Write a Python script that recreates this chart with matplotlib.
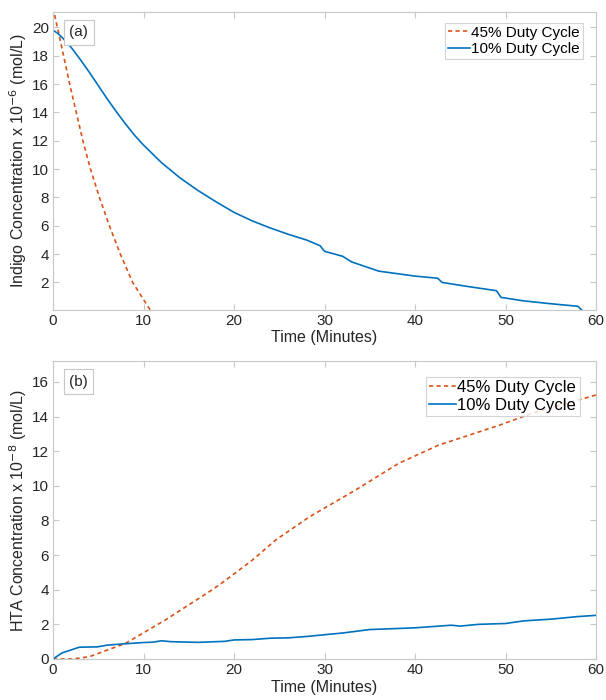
import numpy as np
import matplotlib.pyplot as plt

plt.rcParams['font.family'] = ['Liberation Sans', 'DejaVu Sans']

# (a) indigo concentration x 1e-6 mol/L
t_a45 = [0, 1.17, 1.84, 2.57, 3.3, 4.14, 5.13, 6.23, 7.44, 8.8, 10.0, 10.8]
c_a45 = [21.4, 18, 16, 14, 12, 10, 8, 6, 4, 2, 0.8, 0.0]

t_a10 = [0, 0.5, 1, 2, 3, 4, 5, 6, 7, 8, 9, 10, 12, 14, 16, 18, 20, 22, 24, 26,
         28, 29.5, 30, 32, 33, 36, 40, 42.5, 43, 46, 49, 49.5, 52, 55, 58, 58.5]
c_a10 = [19.8, 19.6, 19.3, 18.6, 17.75, 16.85, 15.9, 14.95, 14.05, 13.2, 12.4,
         11.7, 10.45, 9.4, 8.5, 7.7, 6.95, 6.35, 5.85, 5.4, 5.0, 4.6, 4.2, 3.85,
         3.45, 2.8, 2.45, 2.3, 2.0, 1.7, 1.42, 0.95, 0.7, 0.5, 0.32, 0.0]

# (b) HTA concentration x 1e-8 mol/L
t_b45 = [0, 2.2, 4.0, 8.0, 12.4, 17.6, 19.1, 22, 24.6, 28.3, 33.4, 38.2, 42.6,
         49.3, 53, 60]
c_b45 = [0, 0.0, 0.13, 0.9, 2.25, 4.0, 4.56, 5.7, 6.87, 8.2, 9.75, 11.3, 12.35,
         13.5, 14.2, 15.25]

t_b10 = [0, 1, 2.9, 4.9, 6, 8, 10, 11, 12, 13, 16, 19, 20, 22, 24, 26, 28, 30,
         32, 35, 40, 44, 45, 47, 50, 52, 55, 58, 60]
c_b10 = [0, 0.35, 0.68, 0.7, 0.8, 0.88, 0.95, 0.97, 1.05, 1.0, 0.96, 1.02, 1.1,
         1.12, 1.2, 1.22, 1.3, 1.4, 1.5, 1.7, 1.8, 1.95, 1.9, 2.0, 2.05, 2.2,
         2.3, 2.45, 2.52]

blue = '#0072BD'
orange = '#D95319'

fig = plt.figure(figsize=(6.06, 7.0), dpi=100)
ax1 = fig.add_axes([0.0875, 0.557, 0.896, 0.426])
ax2 = fig.add_axes([0.0875, 0.0586, 0.896, 0.4254])


def style(ax):
    for s in ax.spines.values():
        s.set_color('#c8c8c8')
        s.set_linewidth(0.8)
    ax.tick_params(axis='both', which='both', direction='in', length=4,
                   color='#c8c8c8', labelcolor='#262626', labelsize=11,
                   top=True, right=True, pad=3)
    ax.set_xlim(0, 60)
    ax.set_xticks([0, 10, 20, 30, 40, 50, 60])


ax1.plot(t_a45, c_a45, '--', color=orange, lw=1.2, label='45% Duty Cycle',
         dashes=(2.5, 2))
ax1.plot(t_a10, c_a10, '-', color=blue, lw=1.2, label='10% Duty Cycle')
style(ax1)
ax1.set_ylim(0.05, 21.1)
ax1.set_yticks(range(2, 21, 2))
ax1.set_xlabel('Time (Minutes)', fontsize=11.5, color='#262626', labelpad=1)
ax1.set_ylabel(r'Indigo Concentration x 10$^{-6}$ (mol/L)', fontsize=11.5,
               color='#262626', labelpad=2)
ax1.text(0.03, 0.955, '(a)', transform=ax1.transAxes, fontsize=11,
         va='top', ha='left', color='#262626',
         bbox=dict(boxstyle='square,pad=0.35', fc='white', ec='#c8c8c8', lw=0.8))
leg1 = ax1.legend(loc='upper right', bbox_to_anchor=(0.99, 0.99), fontsize=11,
                  frameon=True, fancybox=False, handlelength=1.4,
                  handletextpad=0.1, borderpad=0.2, labelspacing=0.15)
leg1.get_frame().set_edgecolor('#c8c8c8')
leg1.get_frame().set_linewidth(0.8)

ax2.plot(t_b45, c_b45, '--', color=orange, lw=1.2, label='45% Duty Cycle',
         dashes=(2.5, 2))
ax2.plot(t_b10, c_b10, '-', color=blue, lw=1.2, label='10% Duty Cycle')
style(ax2)
ax2.set_ylim(0, 17.2)
ax2.set_yticks(range(0, 17, 2))
ax2.set_xlabel('Time (Minutes)', fontsize=11.5, color='#262626', labelpad=2)
ax2.set_ylabel(r'HTA Concentration x 10$^{-8}$ (mol/L)', fontsize=11.5,
               color='#262626', labelpad=2)
ax2.text(0.03, 0.955, '(b)', transform=ax2.transAxes, fontsize=11,
         va='top', ha='left', color='#262626',
         bbox=dict(boxstyle='square,pad=0.35', fc='white', ec='#c8c8c8', lw=0.8))
leg2 = ax2.legend(loc='upper right', bbox_to_anchor=(0.985, 0.975), fontsize=12,
                  frameon=True, fancybox=False, handlelength=1.6,
                  handletextpad=0.1, borderpad=0.2, labelspacing=0.15)
leg2.get_frame().set_edgecolor('#c8c8c8')
leg2.get_frame().set_linewidth(0.8)

fig.savefig('out.png', dpi=100)
